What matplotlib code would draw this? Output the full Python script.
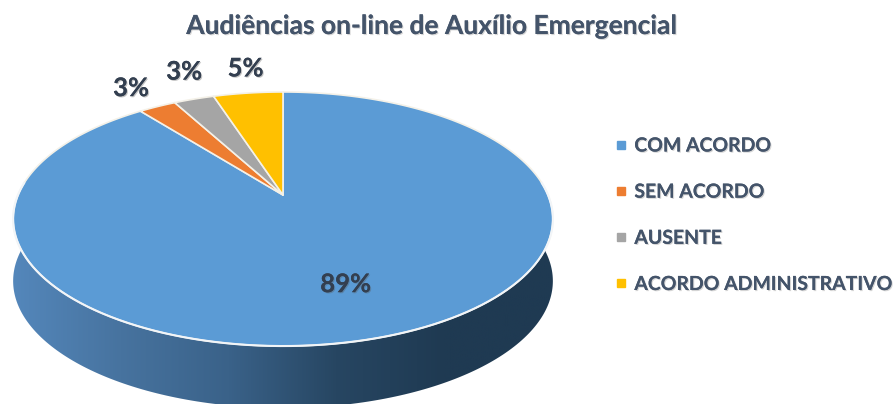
import numpy as np
import matplotlib
matplotlib.use("Agg")
import matplotlib.pyplot as plt
import matplotlib.patheffects as pe
from matplotlib.lines import Line2D
from matplotlib.patches import Polygon

plt.rcParams["font.family"] = ["Lato", "DejaVu Sans"]

title = "Audiências on-line de Auxílio Emergencial"
categories = ["COM ACORDO", "SEM ACORDO", "AUSENTE", "ACORDO ADMINISTRATIVO"]
values = [89.4, 2.7, 2.9, 5.0]
colors = ["#5b9bd5", "#ed7d31", "#a5a5a5", "#ffc000"]
label_radius = [0.65, 1.25, 1.3, 1.3]
label_nudge = [(-1, 4), (0, 0), (12, -4), (6, 0)]

# tilted disc: unit circle seen in perspective, pixel coords
APEX = (283, 195)
KX, KY, PERSP = 265, 122.5, 0.189
DEPTH = 62


def project(t, r=1.0, shift=0):
    x = r * np.sin(t)
    y = r * np.cos(t)
    w = 1 + PERSP * y
    return APEX[0] + KX * x / w, APEX[1] - KY * y / w + shift


def shadow(alpha=0.35):
    return [pe.withSimplePatchShadow(offset=(0.8, -0.8), alpha=alpha, shadow_rgbFace="#555555"), pe.Normal()]


fig = plt.figure(figsize=(8.94, 4.04), dpi=100)
ax = fig.add_axes([0, 0, 1, 1])
ax.set_xlim(0, 894)
ax.set_ylim(404, 0)
ax.axis("off")

# side wall with left to right shading
t = np.linspace(np.pi / 2 - 0.15, 3 * np.pi / 2 + 0.15, 200)
top_x, top_y = project(t)
bot_x, bot_y = project(t, shift=DEPTH)
wall = Polygon(np.c_[np.r_[top_x, bot_x[::-1]], np.r_[top_y, bot_y[::-1]]], closed=True, fc="none", ec="none")
ax.add_patch(wall)
shade = matplotlib.colors.LinearSegmentedColormap.from_list(
    "wall", ["#5487bb", "#47739f", "#3a6289", "#274662", "#1f3a52", "#1f3a52"])
img = ax.imshow(np.linspace(0, 1, 256)[None, :], cmap=shade, extent=(12, 553, 404, 190), aspect="auto", zorder=1)
img.set_clip_path(wall)
ax.set_xlim(0, 894)
ax.set_ylim(404, 0)

# top face
edges = np.cumsum([0] + values) / sum(values) * 2 * np.pi
for i, color in enumerate(colors):
    tt = np.linspace(edges[i], edges[i + 1], 300)
    xs, ys = project(tt)
    ax.fill(np.r_[APEX[0], xs], np.r_[APEX[1], ys], fc=color, ec="#f4f1e8", lw=1.2, zorder=2, joinstyle="round")

# bright front rim
rim_x, rim_y = project(np.linspace(np.pi / 2 - 0.1, 3 * np.pi / 2 + 0.1, 200))
ax.plot(rim_x, rim_y, color="#f2f5f8", lw=1.5, zorder=2.5)

# percent labels
for i, v in enumerate(values):
    mid = (edges[i] + edges[i + 1]) / 2
    lx, ly = project(mid, label_radius[i])
    ax.text(lx + label_nudge[i][0], ly + label_nudge[i][1], f"{v:.0f}%", ha="center", va="center",
            fontsize=18.5, fontweight="bold", color="#333f50", zorder=3, path_effects=shadow())

ax.text(431, 26, title, ha="center", va="center", fontsize=19, fontweight="bold",
        color="#44546a", path_effects=shadow(0.25))

handles = [Line2D([], [], ls="", marker="s", ms=6, mfc=c, mec=c) for c in colors]
leg = fig.legend(handles, categories, loc="upper left", bbox_to_anchor=(611 / 894, 1 - 137.5 / 404),
                 frameon=False, fontsize=14, labelspacing=1.5, handletextpad=0.2,
                 borderpad=0, borderaxespad=0, handlelength=1.0)
for txt in leg.get_texts():
    txt.set_fontweight("bold")
    txt.set_color("#44546a")
    txt.set_path_effects(shadow(0.25))

fig.savefig("out.png", dpi=100)
